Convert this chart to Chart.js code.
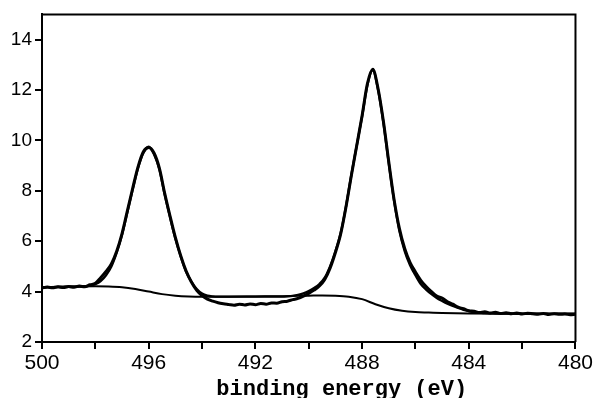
<!DOCTYPE html>
<html>
<head>
<meta charset="utf-8">
<script src="https://cdn.jsdelivr.net/npm/chart.js@4/dist/chart.umd.min.js"></script>
<style>
  html, body { margin: 0; padding: 0; background: #fff; }
  #c { display: block; }
</style>
</head>
<body>
<canvas id="c" width="595" height="398"></canvas>
<script>
// Binding energy grid (eV) for measured spectrum and fit envelope
const energy = [
  500.0, 499.8, 499.6, 499.4, 499.2, 499.0, 498.8, 498.6, 498.4, 498.2,
  498.0, 497.8, 497.6, 497.4, 497.2, 497.0, 496.8, 496.6, 496.4, 496.2,
  496.0, 495.8, 495.6, 495.4, 495.2, 495.0, 494.8, 494.6, 494.4, 494.2,
  494.0, 493.8, 493.6, 493.4, 493.2, 493.0, 492.8, 492.6, 492.4, 492.2,
  492.0, 491.8, 491.6, 491.4, 491.2, 491.0, 490.8, 490.6, 490.4, 490.2,
  490.0, 489.8, 489.6, 489.4, 489.2, 489.0, 488.8, 488.6, 488.4, 488.2,
  488.0, 487.8, 487.6, 487.4, 487.2, 487.0, 486.8, 486.6, 486.4, 486.2,
  486.0, 485.8, 485.6, 485.4, 485.2, 485.0, 484.8, 484.6, 484.4, 484.2,
  484.0, 483.8, 483.6, 483.4, 483.2, 483.0, 482.8, 482.6, 482.4, 482.2,
  482.0, 481.8, 481.6, 481.4, 481.2, 481.0, 480.8, 480.6, 480.4, 480.2,
  480.0
];

// Measured intensity (noisy)
const measured = [
  4.14, 4.18, 4.15, 4.19, 4.16, 4.20, 4.17, 4.22, 4.19, 4.27,
  4.33, 4.55, 4.80, 5.10, 5.60, 6.30, 7.20, 8.10, 8.95, 9.55,
  9.72, 9.50, 8.90, 7.90, 7.00, 6.15, 5.42, 4.82, 4.38, 4.05,
  3.84, 3.70, 3.62, 3.56, 3.52, 3.49, 3.46, 3.50, 3.47, 3.51,
  3.48, 3.53, 3.50, 3.55, 3.54, 3.60, 3.62, 3.68, 3.73, 3.82,
  3.93, 4.06, 4.22, 4.48, 4.93, 5.55, 6.30, 7.38, 8.62, 9.80,
  10.98, 12.25, 12.82, 12.05, 10.75, 9.15, 7.65, 6.50, 5.70, 5.15,
  4.78, 4.45, 4.20, 4.00, 3.82, 3.74, 3.60, 3.50, 3.38, 3.32,
  3.24, 3.22, 3.17, 3.20, 3.15, 3.18, 3.13, 3.16, 3.12, 3.15,
  3.11, 3.14, 3.12, 3.10, 3.13, 3.09, 3.12, 3.10, 3.11, 3.08,
  3.10
];

// Fitted envelope (peaks + background)
const fitted = [
  4.16, 4.17, 4.17, 4.18, 4.18, 4.19, 4.19, 4.20, 4.21, 4.24,
  4.30, 4.42, 4.65, 5.00, 5.55, 6.25, 7.15, 8.05, 8.90, 9.50,
  9.75, 9.45, 8.85, 7.85, 6.95, 6.10, 5.40, 4.80, 4.40, 4.10,
  3.92, 3.84, 3.81, 3.80, 3.80, 3.80, 3.80, 3.80, 3.80, 3.80,
  3.80, 3.80, 3.80, 3.80, 3.80, 3.80, 3.81, 3.83, 3.87, 3.93,
  4.02, 4.14, 4.30, 4.55, 5.00, 5.60, 6.33, 7.40, 8.65, 9.80,
  10.95, 12.20, 12.78, 12.00, 10.70, 9.10, 7.60, 6.40, 5.60, 5.05,
  4.65, 4.30, 4.08, 3.90, 3.75, 3.63, 3.52, 3.43, 3.35, 3.28,
  3.23, 3.19, 3.17, 3.15, 3.14, 3.13, 3.13, 3.13, 3.13, 3.12,
  3.12, 3.12, 3.12, 3.12, 3.12, 3.12, 3.12, 3.12, 3.12, 3.12,
  3.12
];

// Shirley-type background
const bgEnergy = [
  500, 499, 498, 497.5, 497, 496.5, 496, 495.5, 495, 494.5,
  494, 493, 492, 491, 490, 489.5, 489, 488.5, 488, 487.5,
  487, 486.5, 486, 485.5, 485, 484, 482, 480
];
const background = [
  4.18, 4.20, 4.21, 4.20, 4.17, 4.10, 4.00, 3.90, 3.84, 3.81,
  3.80, 3.80, 3.81, 3.82, 3.84, 3.85, 3.84, 3.80, 3.70, 3.50,
  3.34, 3.24, 3.19, 3.17, 3.15, 3.13, 3.12, 3.12
];

const xTickLabels = [500, 496, 492, 488, 484, 480];
const yTickLabels = [2, 4, 6, 8, 10, 12, 14];
const xTitle = 'binding energy (eV)';

const pts = (xs, ys) => xs.map((x, i) => ({ x: x, y: ys[i] }));

const frame = {
  id: 'frame',
  afterDraw(chart) {
    const { ctx, chartArea: a } = chart;
    ctx.save();
    ctx.strokeStyle = '#000';
    ctx.lineWidth = 2;
    ctx.beginPath();
    ctx.moveTo(a.left, a.top);
    ctx.lineTo(a.right, a.top);
    ctx.lineTo(a.right, a.bottom);
    ctx.stroke();
    ctx.restore();
  }
};

new Chart(document.getElementById('c'), {
  type: 'line',
  data: {
    datasets: [
      { label: 'measured', data: pts(energy, measured), borderColor: '#000', borderWidth: 3,
        pointRadius: 0, cubicInterpolationMode: 'monotone', fill: false },
      { label: 'fit', data: pts(energy, fitted), borderColor: '#000', borderWidth: 2.4,
        pointRadius: 0, cubicInterpolationMode: 'monotone', fill: false },
      { label: 'background', data: pts(bgEnergy, background), borderColor: '#000', borderWidth: 2,
        pointRadius: 0, cubicInterpolationMode: 'monotone', fill: false }
    ]
  },
  plugins: [frame],
  options: {
    responsive: false,
    animation: false,
    devicePixelRatio: 1,
    layout: { padding: { top: 12, right: 18, left: 0, bottom: 0 } },
    plugins: { legend: { display: false }, tooltip: { enabled: false } },
    scales: {
      x: {
        type: 'linear', reverse: true, min: 480, max: 500,
        afterFit(s) { s.height = 56; },
        border: { display: true, color: '#000', width: 2 },
        grid: { drawOnChartArea: false, drawTicks: true, tickLength: 7, color: '#000', lineWidth: 2 },
        ticks: {
          stepSize: 2, maxRotation: 0, autoSkip: false, padding: 2, color: '#000',
          font: { family: '"Liberation Sans", Arial, sans-serif', size: 21 },
          callback: (v) => xTickLabels.includes(v) ? String(v) : ''
        },
        title: {
          display: true, text: '     ' + xTitle, color: '#000',
          font: { family: '"Liberation Mono", "Courier New", monospace', size: 22, weight: 'bold', lineHeight: 1 },
          padding: { top: 0, bottom: -2 }
        }
      },
      y: {
        type: 'linear', min: 2, max: 15,
        afterFit(s) { s.width = 42; },
        border: { display: true, color: '#000', width: 2 },
        grid: { drawOnChartArea: false, drawTicks: true, tickLength: 7, color: '#000', lineWidth: 2 },
        ticks: {
          stepSize: 2, includeBounds: false, padding: 3, color: '#000',
          font: { family: '"Liberation Sans", Arial, sans-serif', size: 19 },
          callback: (v) => yTickLabels.includes(v) ? String(v) : ''
        }
      }
    }
  }
});
</script>
</body>
</html>
